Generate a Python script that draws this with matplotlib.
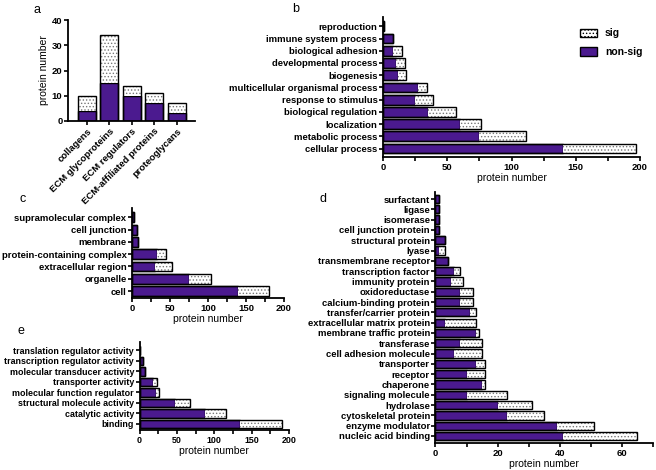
import matplotlib
matplotlib.use("Agg")
import matplotlib.pyplot as plt
from matplotlib.patches import Patch
import numpy as np

plt.rcParams['font.family'] = ['Liberation Sans', 'DejaVu Sans']
plt.rcParams['font.weight'] = 'bold'
plt.rcParams['hatch.linewidth'] = 0.6

PURPLE = '#4b1a8f'
HATCHC = '#777777'

# panel a - matrisome categories
a_cats = ['collagens', 'ECM glycoproteins', 'ECM regulators', 'ECM-affiliated proteins', 'proteoglycans']
a_nonsig = [4, 15, 10, 7, 3]
a_sig = [6, 19, 4, 4, 4]

# panel b - biological process
b_cats = ['reproduction', 'immune system process', 'biological adhesion', 'developmental process',
          'biogenesis', 'multicellular organismal process', 'response to stimulus',
          'biological regulation', 'localization', 'metabolic process', 'cellular process']
b_nonsig = [1, 8, 8, 10, 12, 27, 25, 35, 60, 75, 140]
b_sig = [0, 0, 7, 7, 6, 7, 14, 22, 16, 36, 57]

# panel c - cellular component
c_cats = ['supramolecular complex', 'cell junction', 'membrane', 'protein-containing complex',
          'extracellular region', 'organelle', 'cell']
c_nonsig = [2, 7, 8, 33, 30, 75, 139]
c_sig = [0, 0, 0, 12, 22, 29, 41]

# panel d - protein class
d_cats = ['surfactant', 'ligase', 'isomerase', 'cell junction protein', 'structural protein', 'lyase',
          'transmembrane receptor', 'transcription factor', 'immunity protein', 'oxidoreductase',
          'calcium-binding protein', 'transfer/carrier protein', 'extracellular matrix protein',
          'membrane traffic protein', 'transferase', 'cell adhesion molecule', 'transporter',
          'receptor', 'chaperone', 'signaling molecule', 'hydrolase', 'cytoskeletal protein',
          'enzyme modulator', 'nucleic acid binding']
d_nonsig = [1, 1, 1, 1, 3, 1, 4, 6, 5, 8, 8, 11, 3, 13, 8, 6, 13, 10, 15, 10, 20, 23, 39, 41]
d_sig = [0, 0, 0, 0, 0, 2, 0, 2, 4, 4, 4, 2, 10, 1, 7, 9, 3, 6, 1, 13, 11, 12, 12, 24]

# panel e - molecular function
e_cats = ['translation regulator activity', 'transcription regulator activity',
          'molecular transducer activity', 'transporter activity', 'molecular function regulator',
          'structural molecule activity', 'catalytic activity', 'binding']
e_nonsig = [1, 5, 7, 18, 22, 47, 87, 135]
e_sig = [0, 0, 0, 5, 4, 21, 29, 55]

W, H = 656, 470
fig = plt.figure(figsize=(W / 100, H / 100), dpi=100)


def box(l, t, r, b):
    return fig.add_axes([l / W, 1 - b / H, (r - l) / W, (b - t) / H])


def style(ax, fs=6.8):
    for s in ['top', 'right']:
        ax.spines[s].set_visible(False)
    for s in ['left', 'bottom']:
        ax.spines[s].set_linewidth(1.3)
    ax.tick_params(width=1.2, length=3, labelsize=fs, pad=1)


def hpanel(ax, cats, nonsig, sig, xmax, major, minor, top_m, bot_m, fs=6.8):
    y = np.arange(len(cats))
    ax.barh(y, nonsig, height=0.8, color=PURPLE, edgecolor='black', linewidth=1)
    ax.barh(y, sig, left=nonsig, height=0.8, color='white', edgecolor=HATCHC,
            hatch='.....', linewidth=0)
    tot = np.array(nonsig) + np.array(sig)
    ax.barh(y, tot, height=0.8, fill=False, edgecolor='black', linewidth=1)
    ax.set_yticks(y)
    ax.set_yticklabels(cats)
    ax.set_ylim(len(cats) - 1 + bot_m, -top_m)
    ax.set_xlim(0, xmax)
    ax.set_xticks(np.arange(0, xmax + 1, major))
    ax.set_xticks(np.arange(0, xmax + 1, minor), minor=True)
    ax.tick_params(axis='x', which='minor', length=3, width=1.2)
    ax.set_xlabel('protein number', fontsize=7.5, labelpad=1)
    style(ax, fs)


# a
ax = box(68, 20, 195, 121)
x = np.arange(len(a_cats))
ax.bar(x, a_nonsig, width=0.8, color=PURPLE, edgecolor='black', linewidth=1)
ax.bar(x, a_sig, bottom=a_nonsig, width=0.8, color='white', edgecolor=HATCHC,
       hatch='.....', linewidth=0)
ax.bar(x, np.array(a_nonsig) + np.array(a_sig), width=0.8, fill=False,
       edgecolor='black', linewidth=1)
ax.set_xlim(-0.83, 4.8)
ax.set_ylim(0, 40)
ax.set_yticks([0, 10, 20, 30, 40])
ax.set_xticks(x)
ax.set_xticklabels(a_cats, rotation=45, ha='right', rotation_mode='anchor', fontsize=6.3)
ax.set_ylabel('protein number', fontsize=7.5, labelpad=2)
style(ax)
fig.text(33 / W, 1 - 10 / H, 'a', fontsize=9, fontweight='normal', va='center')

# b
ax = box(383, 17, 640, 157)
hpanel(ax, b_cats, b_nonsig, b_sig, 200, 50, 25, 0.76, 0.69)
fig.text(292 / W, 1 - 9 / H, 'b', fontsize=9, fontweight='normal', va='center')
h_sig = Patch(facecolor='white', edgecolor='black', hatch='.....', linewidth=1)
h_non = Patch(facecolor=PURPLE, edgecolor='black', linewidth=1)
ax.legend([h_sig, h_non], ['sig', 'non-sig'], loc='upper left', bbox_to_anchor=(0.73, 0.985),
          frameon=False, fontsize=7.5, handlelength=1.6, handleheight=0.9, labelspacing=0.8)

# c
ax = box(132, 208, 284, 298)
hpanel(ax, c_cats, c_nonsig, c_sig, 200, 50, 25, 0.76, 0.57)
fig.text(20 / W, 1 - 199 / H, 'c', fontsize=9, fontweight='normal', va='center')

# d
ax = box(435.5, 192, 653, 443)
hpanel(ax, d_cats, d_nonsig, d_sig, 70, 20, 10, 0.68, 0.68)
ax.set_xticks([0, 20, 40, 60])
fig.text(320 / W, 1 - 199 / H, 'd', fontsize=9, fontweight='normal', va='center')

# e
ax = box(139.5, 342, 289, 430)
hpanel(ax, e_cats, e_nonsig, e_sig, 200, 50, 25, 0.8, 0.58, fs=6.4)
fig.text(18 / W, 1 - 331 / H, 'e', fontsize=9, fontweight='normal', va='center')

fig.savefig('out.png', dpi=100)
